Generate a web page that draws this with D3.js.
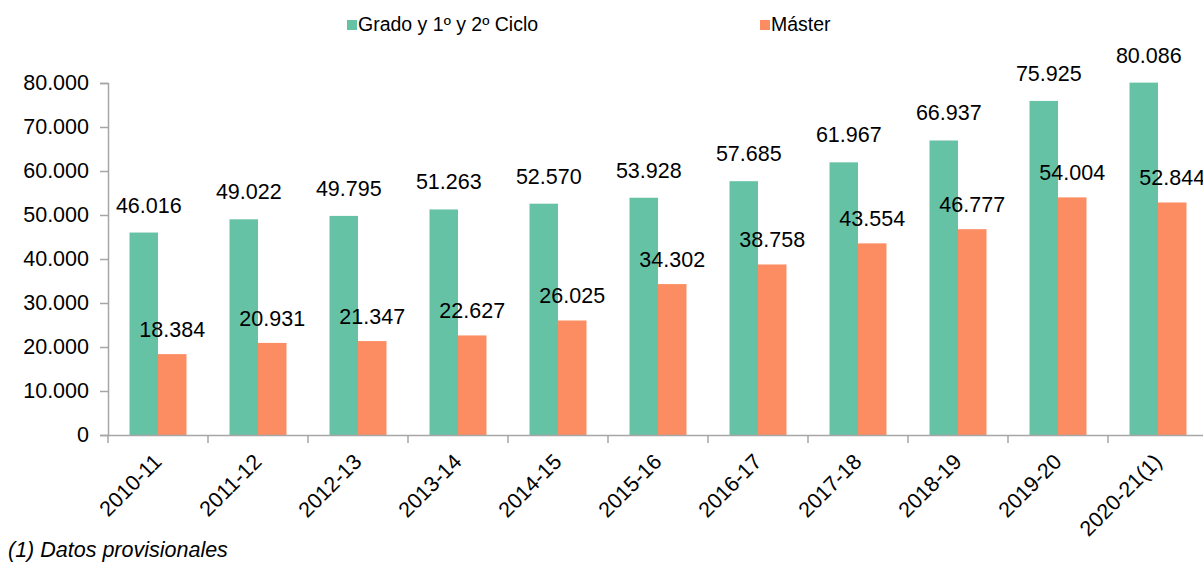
<!DOCTYPE html>
<html>
<head>
<meta charset="utf-8">
<script src="https://cdn.jsdelivr.net/npm/d3@7"></script>
<style>
  body { margin: 0; background: #fff; }
  svg text { font-family: "Liberation Sans", Arial, sans-serif; fill: #000; }
</style>
</head>
<body>
<div id="chart"></div>
<script>
let cursos = ['2010-11', '2011-12', '2012-13', '2013-14', '2014-15', '2015-16',
              '2016-17', '2017-18', '2018-19', '2019-20', '2020-21(1)']
let grado = [46016, 49022, 49795, 51263, 52570, 53928, 57685, 61967, 66937, 75925, 80086]
let master = [18384, 20931, 21347, 22627, 26025, 34302, 38758, 43554, 46777, 54004, 52844]
let yTicks = [0, 10000, 20000, 30000, 40000, 50000, 60000, 70000, 80000]
let series = ['Grado y 1º y 2º Ciclo', 'Máster']
let colores = ['#66c2a5', '#fc8d62']

let width = 1203, height = 562
let margins = {top: 83, left: 108, bottom: 127}

let es = d3.formatLocale({decimal: ',', thousands: '.', grouping: [3], currency: ['', '€']})
let fmt = es.format(',d')

let svg = d3.select('#chart')
    .append('svg')
        .attr('width', width)
        .attr('height', height)

let x = d3.scaleBand()
    .domain(cursos)
    .range([margins.left, margins.left + 1100])
    .paddingInner(0.43)
    .paddingOuter(0.215)

let xs = d3.scaleBand()
    .domain([0, 1])
    .range([0, x.bandwidth()])

let y = d3.scaleLinear()
    .domain([0, 80000])
    .range([height - margins.bottom, margins.top])

// bars
let datos = cursos.map(function(c, i){ return {curso: c, valores: [grado[i], master[i]]} })

let grupos = svg.selectAll('.grupo')
    .data(datos)
    .enter()
    .append('g')
        .attr('transform', d => `translate(${x(d.curso)},0)`)

grupos.selectAll('rect')
    .data(d => d.valores)
    .enter()
    .append('rect')
        .attr('x', (d, i) => xs(i))
        .attr('width', xs.bandwidth())
        .attr('y', d => y(d))
        .attr('height', d => y(0) - y(d))
        .attr('fill', (d, i) => colores[i])

grupos.selectAll('.etiqueta')
    .data(d => d.valores)
    .enter()
    .append('text')
        .attr('x', (d, i) => xs(i) + xs.bandwidth() / 2 + (i == 0 ? 5 : 0))
        .attr('y', (d, i) => y(d) - (i == 0 ? 20 : 17))
        .attr('text-anchor', 'middle')
        .attr('font-size', 21.5)
        .text(d => fmt(d))

//Y-AXIS
let yAxis = svg.append('g')
    .attr('transform', `translate(${margins.left},0)`)
    .call(d3.axisLeft(y).tickValues(yTicks).tickSize(8).tickPadding(11).tickFormat(fmt))
yAxis.selectAll('text').attr('font-size', 21.5).attr('font-family', '"Liberation Sans", Arial, sans-serif').attr('fill', '#000')
yAxis.select('.domain').attr('stroke', '#a6a6a6').attr('stroke-width', 1.5)
yAxis.selectAll('.tick line').attr('stroke', '#a6a6a6').attr('stroke-width', 1.5)

//X-AXIS
let xAxis = svg.append('g')
    .attr('transform', `translate(0,${y(0)})`)
    .call(d3.axisBottom(x).tickSize(0).tickSizeOuter(0).tickFormat(''))
xAxis.select('.domain').attr('stroke', '#a6a6a6').attr('stroke-width', 1.5)
xAxis.selectAll('.tick').remove()

// tick marks between categories
let bordes = cursos.map(c => x(c) - x.step() * x.paddingOuter())
xAxis.selectAll('.borde')
    .data(bordes)
    .enter()
    .append('line')
        .attr('x1', d => d).attr('x2', d => d)
        .attr('y1', 0).attr('y2', 8)
        .attr('stroke', '#a6a6a6').attr('stroke-width', 1.5)

xAxis.selectAll('.lbl')
    .data(cursos)
    .enter()
    .append('text')
        .attr('transform', d => `translate(${x(d) + x.bandwidth() / 2 + 5},${28}) rotate(-45)`)
        .attr('text-anchor', 'end')
        .attr('font-size', 21.5)
        .text(d => d)

// legend
let leyenda = [{x: 347}, {x: 760}]
let leg = svg.selectAll('.leg')
    .data(series)
    .enter()
    .append('g')
        .attr('transform', (d, i) => `translate(${leyenda[i].x},20)`)
leg.append('rect')
    .attr('width', 10).attr('height', 10)
    .attr('fill', (d, i) => colores[i])
leg.append('text')
    .attr('x', 11).attr('y', 11)
    .attr('font-size', 19.5)
    .text(d => d)

// footnote
svg.append('text')
    .attr('x', 8).attr('y', 557)
    .attr('font-size', 21.5)
    .attr('font-style', 'italic')
    .text('(1) Datos provisionales')
</script>
</body>
</html>
